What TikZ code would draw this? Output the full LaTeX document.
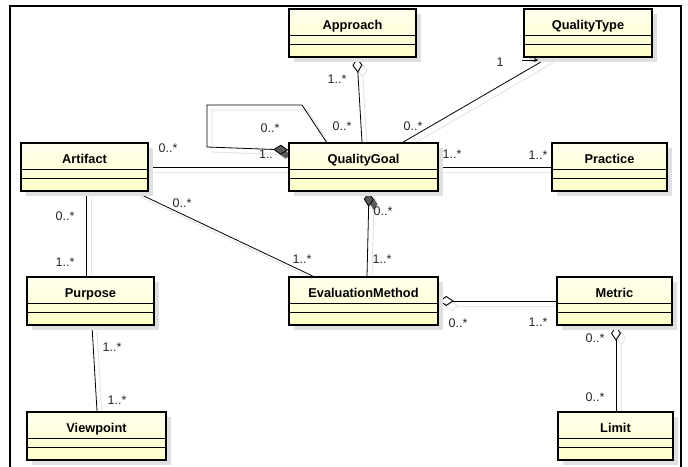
\documentclass[tikz,border=0pt]{standalone}
\usepackage{fontspec}
\setmainfont{Liberation Sans}
\usetikzlibrary{arrows.meta,shadows,backgrounds}
\definecolor{classtop}{RGB}{255,255,238}
\definecolor{classbot}{RGB}{255,255,200}

\begin{document}
\begin{tikzpicture}[x=1pt,y=-1pt,
  umlclass/.style={draw,line width=1.6pt,top color=classtop,bottom color=classbot,
    inner sep=0pt,text height=20pt,text depth=28pt,
    font=\bfseries\fontsize{12.8}{14}\selectfont,
    drop shadow={shadow xshift=5pt,shadow yshift=-5pt,fill=black!12,opacity=1}},
  assoc/.style={line width=0.8pt,
    preaction={draw=black!10,line width=1pt,transform canvas={shift={(5pt,-5pt)}}}},
  agg/.style={assoc,{Diamond[open,length=15pt,width=10pt,line width=0.9pt]}-},
  comp/.style={assoc,{Diamond[length=15pt,width=10pt,fill=black!65]}-},
  mult/.style={font=\fontsize{12.5}{14}\selectfont,text=black!85,inner sep=0pt}]
\useasboundingbox (0,0) rectangle (688,466);
\draw[line width=1.5pt] (10,470) -- (10,6) -- (681,6) -- (681,470);

% classes
\node[umlclass,minimum width=127pt] (Approach) at (352.5,33) {Approach};
\node[umlclass,minimum width=128pt] (QualityType) at (588,33) {QualityType};
\node[umlclass,minimum width=127pt] (Artifact) at (84.5,167) {Artifact};
\node[umlclass,minimum width=149pt] (QualityGoal) at (363.5,167) {QualityGoal};
\node[umlclass,minimum width=115pt] (Practice) at (609.5,167) {Practice};
\node[umlclass,minimum width=127pt] (Purpose) at (90.5,301) {Purpose};
\node[umlclass,minimum width=149pt] (EvaluationMethod) at (363.5,301) {EvaluationMethod};
\node[umlclass,minimum width=115pt] (Metric) at (614.5,301) {Metric};
\node[umlclass,minimum width=139pt] (Viewpoint) at (96.5,436) {Viewpoint};
\node[umlclass,minimum width=115pt] (Limit) at (615.5,436) {Limit};

\foreach \c in {Approach,QualityType,Artifact,QualityGoal,Practice,Purpose,EvaluationMethod,Metric,Viewpoint,Limit}
  \foreach \d in {27,36}
    \draw[line width=1pt] ([yshift=-\d pt]\c.north west) -- ([yshift=-\d pt]\c.north east);

% associations
\coordinate (loopa) at (302,105);
\coordinate (loopb) at (207,105);
\coordinate (loopc) at (207,147);
\coordinate (dira) at (522,60);
\coordinate (dirb) at (538,60);
\begin{pgfonlayer}{background}
\draw[agg] ([xshift=4.5pt]Approach.south) -- ([xshift=-1.5pt]QualityGoal.north);
\draw[assoc] ([xshift=-40pt]QualityType.south) -- ([xshift=39.5pt]QualityGoal.north);
\draw[assoc,-{Diamond[length=15pt,width=10pt,fill=black!65]}] ([xshift=-37pt]QualityGoal.north)
  -- (loopa) -- (loopb) -- (loopc) -- ([yshift=17pt]QualityGoal.west);
\draw[assoc] (Artifact) -- (QualityGoal);
\draw[assoc] (QualityGoal) -- (Practice);
\draw[assoc] ([xshift=50.5pt]Artifact.south) -- ([xshift=-50.5pt]EvaluationMethod.north);
\draw[comp] ([xshift=5.5pt]QualityGoal.south) -- ([xshift=3.5pt]EvaluationMethod.north);
\draw[assoc] ([xshift=1.5pt]Artifact.south) -- ([xshift=-4.5pt]Purpose.north);
\draw[assoc] ([xshift=1.5pt]Purpose.south) -- ([xshift=0.5pt]Viewpoint.north);
\draw[agg] (EvaluationMethod.east) -- (Metric.west);
\draw[agg] ([xshift=1.5pt]Metric.south) -- ([xshift=0.5pt]Limit.north);
\end{pgfonlayer}
\draw[line width=0.6pt,-{Stealth[length=4pt,width=4pt]}] (dira) -- (dirb);

% multiplicities
\node[mult] (mApp) at (337,79) {1..*};
\node[mult] (mAppQG) at (342,126) {0..*};
\node[mult] (mQT) at (500,62) {1};
\node[mult] (mQTQG) at (413,126) {0..*};
\node[mult] (mLoopA) at (270,128) {0..*};
\node[mult] (mLoopB) at (266,154) {1..};
\node[mult] (mArtQG) at (168,148) {0..*};
\node[mult] (mQGPr) at (452,154) {1..*};
\node[mult] (mPr) at (538,155) {1..*};
\node[mult] (mArtEM) at (182,203) {0..*};
\node[mult] (mEMArt) at (302,259) {1..*};
\node[mult] (mQGEM) at (383,211) {0..*};
\node[mult] (mEMQG) at (382,259) {1..*};
\node[mult] (mArtPu) at (65,216) {0..*};
\node[mult] (mPuArt) at (65,262) {1..*};
\node[mult] (mPuVp) at (112,347) {1..*};
\node[mult] (mVp) at (117,400) {1..*};
\node[mult] (mEMMe) at (458,323) {0..*};
\node[mult] (mMeEM) at (538,322) {1..*};
\node[mult] (mMeLi) at (595,338) {0..*};
\node[mult] (mLi) at (595,397) {0..*};
\end{tikzpicture}
\end{document}
